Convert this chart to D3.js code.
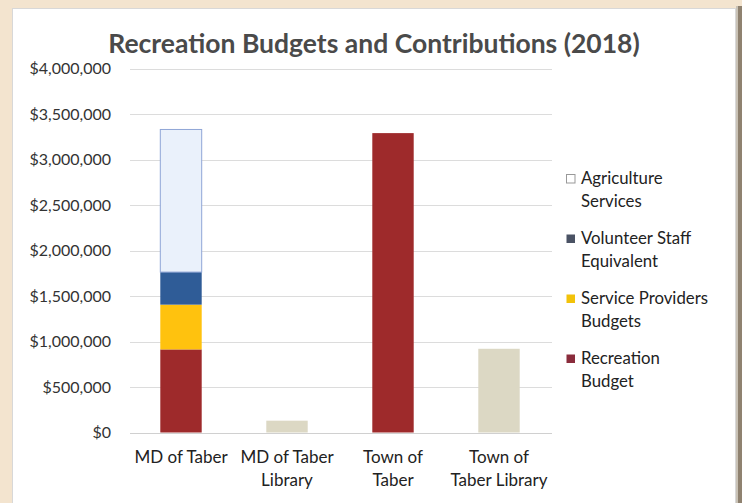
<!DOCTYPE html>
<html><head><meta charset="utf-8">
<script src="https://cdn.jsdelivr.net/npm/d3@7/dist/d3.min.js"></script>
<style>html,body{margin:0;padding:0;background:#f3e4cf;}svg{display:block;}</style>
</head><body>
<svg id="chart" width="742" height="503"></svg>
<script>
const categories = [["MD of Taber"], ["MD of Taber", "Library"], ["Town of", "Taber"], ["Town of", "Taber Library"]];
const categoryKeys = ["MD of Taber", "MD of Taber Library", "Town of Taber", "Town of Taber Library"];
const recreationBudget = [913000, 0, 3290000, 0];
const serviceProvidersBudgets = [492000, 0, 0, 0];
const volunteerStaffEquivalent = [358000, 0, 0, 0];
const agricultureServices = [1567000, 0, 0, 0];
const libraryBudget = [0, 130000, 0, 920000];
const yTicks = [0, 500000, 1000000, 1500000, 2000000, 2500000, 3000000, 3500000, 4000000];
const seriesNames = ["Recreation Budget", "Service Providers Budgets", "Volunteer Staff Equivalent", "Agriculture Services", "Library"];
const legendLabels = [["Agriculture", "Services"], ["Volunteer Staff", "Equivalent"], ["Service Providers", "Budgets"], ["Recreation", "Budget"]];

const FONT = "Lato, 'Open Sans', sans-serif";
const svg = d3.select("#chart");

// frame
svg.append("rect").attr("x",0).attr("y",0).attr("width",742).attr("height",503).attr("fill","#f3e4cf");
svg.append("rect").attr("x",736).attr("y",6).attr("width",6).attr("height",497).attr("fill","#8f8270");
svg.append("rect").attr("x",736).attr("y",6).attr("width",2).attr("height",497).attr("fill","#c9c2b6");
svg.append("rect").attr("x",12.5).attr("y",8.5).attr("width",723).attr("height",500).attr("fill","#ffffff").attr("stroke","#d8d8d8");

const table = categoryKeys.map((k,i)=>({
  cat:k,
  "Recreation Budget":recreationBudget[i],
  "Service Providers Budgets":serviceProvidersBudgets[i],
  "Volunteer Staff Equivalent":volunteerStaffEquivalent[i],
  "Agriculture Services":agricultureServices[i],
  "Library":libraryBudget[i]
}));
const colors = {
  "Recreation Budget":"#9e2a2b",
  "Service Providers Budgets":"#ffc20e",
  "Volunteer Staff Equivalent":"#2f5c97",
  "Agriculture Services":"#eaf1fb",
  "Library":"#dcd8c4"
};
const strokes = {"Agriculture Services":"#8fa6d6"};

const x = d3.scaleBand().domain(categoryKeys).range([128,552]).paddingInner(0.6).paddingOuter(0.3);
const y = d3.scaleLinear().domain([0,4000000]).range([432.5,68.5]);

// gridlines
svg.append("g").selectAll("line").data(yTicks).join("line")
  .attr("x1",130).attr("x2",552).attr("y1",d=>Math.round(y(d))+0.5).attr("y2",d=>Math.round(y(d))+0.5)
  .attr("stroke",d=>d===0?"#d0d0d0":"#dcdcdc").attr("stroke-width",1.2);

// y axis labels
const yAxis = d3.axisLeft(y).tickValues(yTicks).tickSize(0).tickPadding(0)
  .tickFormat(d=>"$"+d3.format(",")(d));
const ya = svg.append("g").attr("transform","translate(111,0)").call(yAxis);
ya.select(".domain").remove();
ya.selectAll("text").attr("font-family",FONT).attr("font-size",16).attr("fill","#333");

// stacks
const stack = d3.stack().keys(seriesNames)(table);
svg.append("g").selectAll("g").data(stack).join("g")
  .attr("fill",s=>colors[s.key]).attr("stroke",s=>strokes[s.key]||"none")
  .selectAll("rect").data(s=>s.filter(d=>d[1]-d[0]>0)).join("rect")
  .attr("x",d=>x(d.data.cat)+0.5).attr("width",x.bandwidth()-1)
  .attr("y",d=>y(d[1])).attr("height",d=>y(d[0])-y(d[1]));

// x labels
const xa = svg.append("g");
categoryKeys.forEach((k,i)=>{
  const t = xa.append("text").attr("x",x(k)+x.bandwidth()/2).attr("y",463)
    .attr("text-anchor","middle").attr("font-family",FONT).attr("font-size",17).attr("fill","#222");
  categories[i].forEach((line,j)=>t.append("tspan").attr("x",x(k)+x.bandwidth()/2).attr("dy",j?23:0).text(line));
});

// title
svg.append("text").attr("x",374).attr("y",53).attr("text-anchor","middle")
  .attr("font-family",FONT).attr("font-weight","bold").attr("font-size",26.5).attr("fill","#4a4a4a")
  .text("Recreation Budgets and Contributions (2018)");

// legend
const legKeys = ["Agriculture Services","Volunteer Staff Equivalent","Service Providers Budgets","Recreation Budget"];
const legMarker = {"Agriculture Services":"#ffffff","Volunteer Staff Equivalent":"#4a5264","Service Providers Budgets":"#f2c20a","Recreation Budget":"#8a2c3c"};
const lg = svg.append("g");
legKeys.forEach((k,i)=>{
  const y0 = 184 + i*60;
  lg.append("rect").attr("x",566.5).attr("y",y0-9.5).attr("width",8.5).attr("height",8.5)
    .attr("fill",legMarker[k]).attr("stroke",k==="Agriculture Services"?"#999":"none");
  const t = lg.append("text").attr("x",581).attr("y",y0).attr("font-family",FONT).attr("font-size",16.8).attr("fill","#222");
  legendLabels[i].forEach((line,j)=>t.append("tspan").attr("x",581).attr("dy",j?23:0).text(line));
});
</script>
</body></html>
